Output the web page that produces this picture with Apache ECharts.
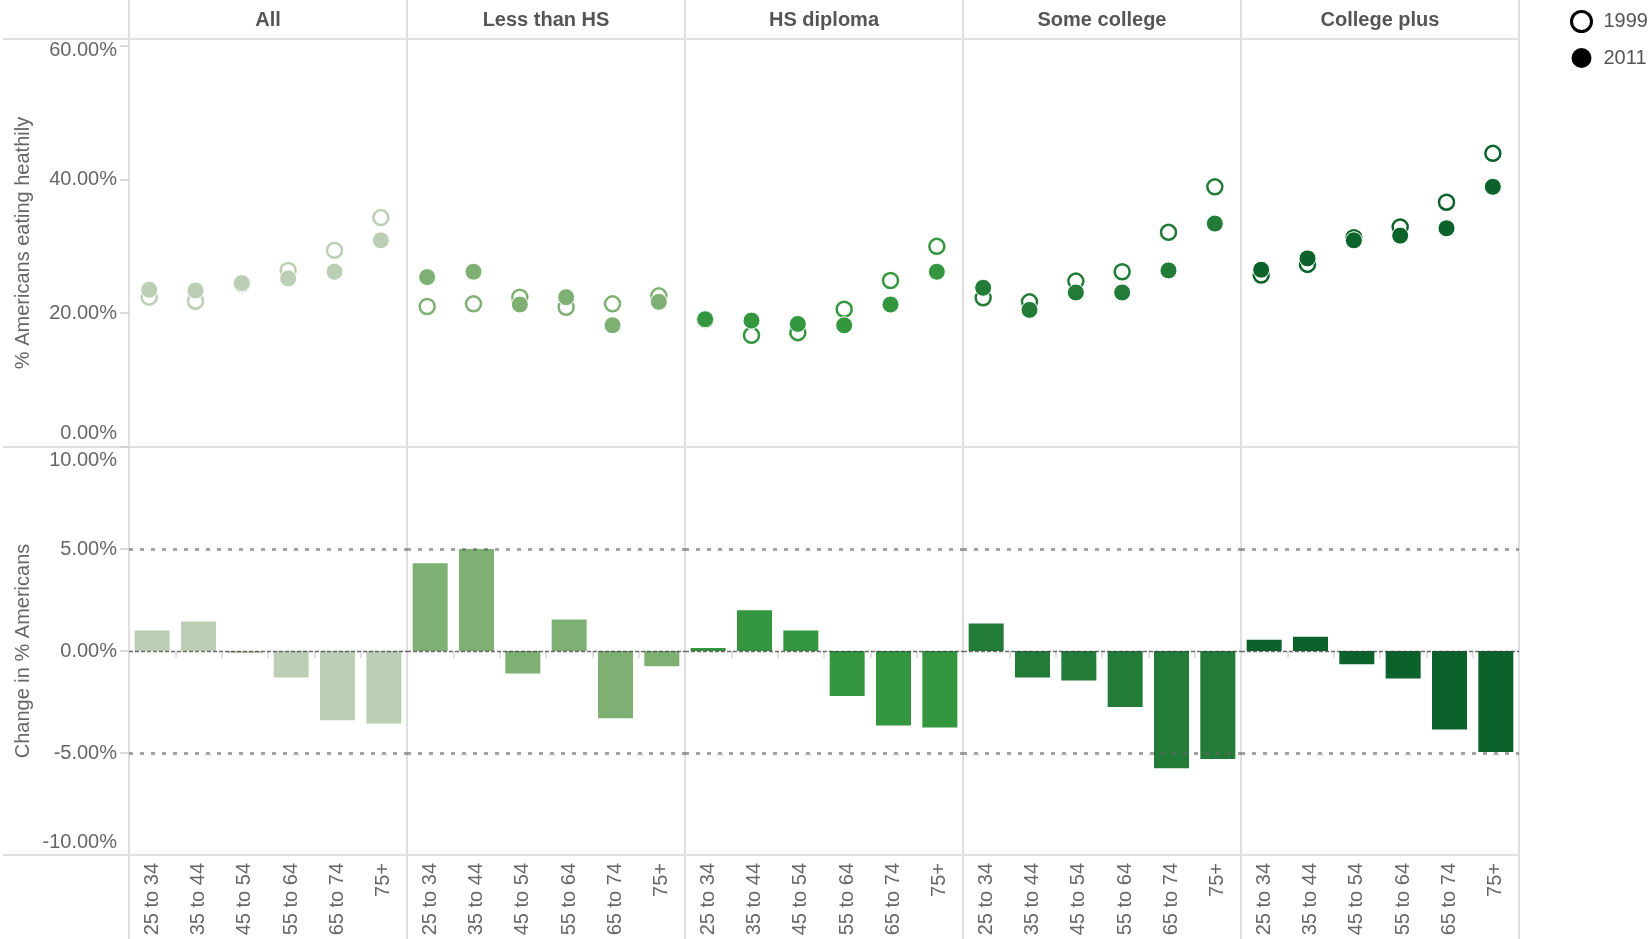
<!DOCTYPE html>
<html>
<head>
<meta charset="utf-8">
<title>Healthy eating by education and age</title>
<script src="https://cdn.jsdelivr.net/npm/echarts@6/dist/echarts.min.js"></script>
<style>
  html, body { margin: 0; padding: 0; background: #fff; }
  #chart { width: 1649px; height: 939px; }
</style>
</head>
<body>
<div id="chart"></div>
<script>
// Age groups shown inside every education panel
const ageGroups = ['25 to 34', '35 to 44', '45 to 54', '55 to 64', '65 to 74', '75+'];

// Education panels, left to right
const educationLevels = ['All', 'Less than HS', 'HS diploma', 'Some college', 'College plus'];

// % of Americans eating healthily, 1999 (one row per education panel)
const rate1999 = [
  [22.4, 21.8, 24.4, 26.4, 29.4, 34.3],
  [21.0, 21.4, 22.4, 20.9, 21.4, 22.6],
  [19.05, 16.7, 17.1, 20.6, 24.9, 30.0],
  [22.3, 21.7, 24.8, 26.2, 32.1, 38.9],
  [25.7, 27.3, 31.3, 32.9, 36.6, 43.9]
];

// % of Americans eating healthily, 2011
const rate2011 = [
  [23.5, 23.4, 24.5, 25.2, 26.2, 30.9],
  [25.4, 26.2, 21.3, 22.4, 18.2, 21.7],
  [19.1, 18.9, 18.4, 18.2, 21.3, 26.2],
  [23.8, 20.5, 23.1, 23.1, 26.4, 33.4],
  [26.5, 28.2, 30.9, 31.6, 32.7, 38.9]
];

// Change in percentage points, 1999 -> 2011
const change = [
  [1.0, 1.45, -0.1, -1.3, -3.4, -3.55],
  [4.3, 5.0, -1.1, 1.55, -3.3, -0.75],
  [0.15, 2.0, 1.0, -2.2, -3.65, -3.75],
  [1.35, -1.3, -1.45, -2.75, -5.75, -5.3],
  [0.55, 0.7, -0.65, -1.35, -3.85, -4.95]
];

// Tick values for the two value axes
const rateTicks = [0, 20, 40, 60];
const changeTicks = [-10, -5, 0, 5, 10];

// Panel colours, light to dark green
const levelColors = ['#bccfb4', '#7fb073', '#34963f', '#237b38', '#0b622b'];

// Layout of the small-multiple panels (pixels)
const PANEL_LEFT = 129;
const PANEL_W = 278;
const TOP_Y = 39;
const ROW_H = 408;
const FRAME = '#e0e0e0';
const FONT = "'Liberation Sans', Arial, sans-serif";
const LABEL_COLOR = '#666';

const chart = echarts.init(document.getElementById('chart'), null, { renderer: 'canvas' });

const pct = v => v.toFixed(2) + '%';

const grid = [], xAxis = [], yAxis = [], series = [], title = [];

// top row: scatter panels; bottom row: bar panels
educationLevels.forEach((lvl, i) => {
  grid.push({ left: PANEL_LEFT + i * PANEL_W, top: TOP_Y, width: PANEL_W, height: ROW_H });
  title.push({
    text: lvl,
    left: PANEL_LEFT + i * PANEL_W + PANEL_W / 2,
    top: 10,
    padding: 0,
    textAlign: 'center',
    textStyle: { fontFamily: FONT, fontSize: 20, fontWeight: 'bold', color: '#555' }
  });
});
educationLevels.forEach((lvl, i) => {
  grid.push({ left: PANEL_LEFT + i * PANEL_W, top: TOP_Y + ROW_H, width: PANEL_W, height: ROW_H });
});

educationLevels.forEach((lvl, i) => {
  xAxis.push({
    type: 'category', gridIndex: i, data: ageGroups,
    axisLine: { show: false }, axisTick: { show: false }, axisLabel: { show: false }
  });
});
educationLevels.forEach((lvl, i) => {
  xAxis.push({
    type: 'category', gridIndex: 5 + i, data: ageGroups,
    axisLine: { show: false },
    axisTick: { show: true, interval: 0, length: 7, lineStyle: { color: FRAME, width: 2 } },
    axisLabel: {
      show: true, interval: 0, rotate: 90, margin: 8,
      fontFamily: FONT, fontSize: 20, color: LABEL_COLOR
    }
  });
});

educationLevels.forEach((lvl, i) => {
  const first = i === 0;
  yAxis.push({
    type: 'value', gridIndex: i, min: 0, max: 61, interval: 20,
    show: first,
    name: first ? '% Americans eating heathily' : '',
    nameLocation: 'middle', nameRotate: 90, nameGap: 96,
    nameTextStyle: { fontFamily: FONT, fontSize: 20, color: LABEL_COLOR },
    axisLine: { show: false },
    splitLine: { show: false },
    axisTick: { show: first, customValues: rateTicks, length: 9, lineStyle: { color: '#d0d0d0', width: 1.5 } },
    axisLabel: {
      show: first, customValues: rateTicks, margin: 12,
      formatter: v => {
        if (rateTicks.indexOf(v) < 0) return '';
        if (v === 60) return '{t|' + pct(v) + '}';
        if (v === 0) return '{b|' + pct(v) + '}';
        return '{n|' + pct(v) + '}';
      },
      rich: {
        n: { fontFamily: FONT, fontSize: 20, color: LABEL_COLOR },
        t: { fontFamily: FONT, fontSize: 20, color: LABEL_COLOR, padding: [9, 0, 0, 0] },
        b: { fontFamily: FONT, fontSize: 20, color: LABEL_COLOR, padding: [0, 0, 28, 0] }
      }
    }
  });
});
educationLevels.forEach((lvl, i) => {
  const first = i === 0;
  yAxis.push({
    type: 'value', gridIndex: 5 + i, min: -10, max: 10, interval: 5,
    show: first,
    name: first ? 'Change in % Americans' : '',
    nameLocation: 'middle', nameRotate: 90, nameGap: 96,
    nameTextStyle: { fontFamily: FONT, fontSize: 20, color: LABEL_COLOR },
    axisLine: { show: false },
    splitLine: { show: false },
    axisTick: { show: first, customValues: [-5, 0, 5], length: 9, lineStyle: { color: '#d0d0d0', width: 1.5 } },
    axisLabel: {
      show: first, customValues: changeTicks, margin: 12,
      formatter: v => {
        if (v === 10) return '{t|' + pct(v) + '}';
        if (v === -10) return '{b|' + pct(v) + '}';
        return '{n|' + pct(v) + '}';
      },
      rich: {
        n: { fontFamily: FONT, fontSize: 20, color: LABEL_COLOR },
        t: { fontFamily: FONT, fontSize: 20, color: LABEL_COLOR, padding: [26, 0, 0, 0] },
        b: { fontFamily: FONT, fontSize: 20, color: LABEL_COLOR, padding: [0, 0, 26, 0] }
      }
    }
  });
});

const refDotted = { color: 'rgba(100,100,100,0.6)', width: 3, type: [4, 7] };
const refZero = { color: 'rgba(60,60,60,0.75)', width: 1.3, type: [4, 2] };

educationLevels.forEach((lvl, i) => {
  series.push({
    name: '1999', type: 'scatter', xAxisIndex: i, yAxisIndex: i,
    data: rate1999[i], symbol: 'circle', symbolSize: 15, symbolOffset: [-3, 0],
    itemStyle: { color: '#fff', borderColor: levelColors[i], borderWidth: 2.5, opacity: 1 },
    emphasis: { disabled: true }, z: 2
  });
  series.push({
    name: '2011', type: 'scatter', xAxisIndex: i, yAxisIndex: i,
    data: rate2011[i], symbol: 'circle', symbolSize: 17, symbolOffset: [-3, 0],
    itemStyle: { color: levelColors[i], borderColor: '#fff', borderWidth: 1, opacity: 1 },
    emphasis: { disabled: true }, z: 3
  });
  series.push({
    name: lvl + ' change', type: 'bar', xAxisIndex: 5 + i, yAxisIndex: 5 + i,
    data: change[i], barWidth: 35,
    itemStyle: { color: levelColors[i] },
    emphasis: { disabled: true },
    markLine: {
      silent: true, symbol: 'none', label: { show: false },
      data: [
        { yAxis: 5, lineStyle: refDotted },
        { yAxis: -5, lineStyle: refDotted },
        { yAxis: 0, lineStyle: refZero }
      ]
    }
  });
});

// panel frame: header rule, row separators and column dividers
const graphic = [];
[TOP_Y, TOP_Y + ROW_H, TOP_Y + 2 * ROW_H].forEach(y => {
  graphic.push({
    type: 'line', silent: true, z: 0,
    shape: { x1: 3, y1: y, x2: PANEL_LEFT + 5 * PANEL_W + 1, y2: y },
    style: { stroke: FRAME, lineWidth: 2 }
  });
});
for (let i = 0; i <= educationLevels.length; i++) {
  const x = PANEL_LEFT + i * PANEL_W;
  graphic.push({
    type: 'line', silent: true, z: 0,
    shape: { x1: x, y1: 0, x2: x, y2: 939 },
    style: { stroke: FRAME, lineWidth: 2 }
  });
}

chart.setOption({
  animation: false,
  backgroundColor: '#fff',
  textStyle: { fontFamily: FONT },
  title,
  grid,
  xAxis,
  yAxis,
  graphic,
  legend: {
    orient: 'vertical', left: 1565, top: 5,
    itemWidth: 34, itemHeight: 20, itemGap: 15,
    selectedMode: false,
    textStyle: { fontFamily: FONT, fontSize: 20, color: '#555' },
    data: [
      { name: '1999', icon: 'circle', itemStyle: { color: '#fff', borderColor: '#000', borderWidth: 3 } },
      { name: '2011', icon: 'circle', itemStyle: { color: '#000', borderColor: '#000', borderWidth: 0 } }
    ]
  },
  series
});
</script>
</body>
</html>
